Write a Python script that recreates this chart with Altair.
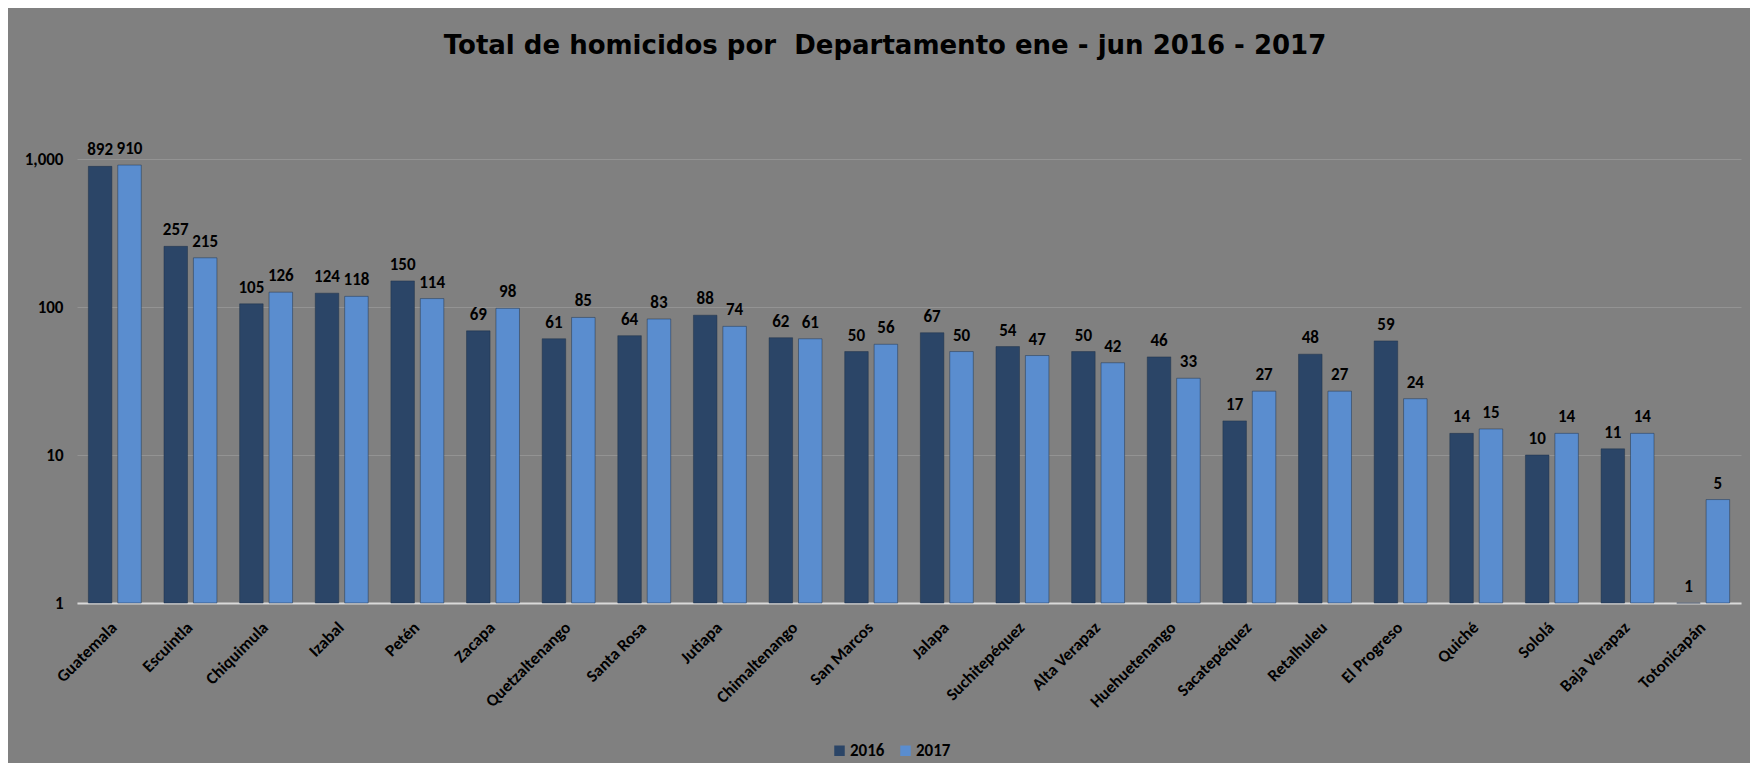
import altair as alt
import pandas as pd

departamentos = ["Guatemala", "Escuintla", "Chiquimula", "Izabal", "Petén", "Zacapa",
                 "Quetzaltenango", "Santa Rosa", "Jutiapa", "Chimaltenango", "San Marcos",
                 "Jalapa", "Suchitepéquez", "Alta Verapaz", "Huehuetenango", "Sacatepéquez",
                 "Retalhuleu", "El Progreso", "Quiché", "Sololá", "Baja Verapaz", "Totonicapán"]
v2016 = [892, 257, 105, 124, 150, 69, 61, 64, 88, 62, 50, 67, 54, 50, 46, 17, 48, 59, 14, 10, 11, 1]
v2017 = [910, 215, 126, 118, 114, 98, 85, 83, 74, 61, 56, 50, 47, 42, 33, 27, 27, 24, 15, 14, 14, 5]
years = ["2016", "2017"]
colors = ["#2b4567", "#5a8dcf"]
y_ticks = [1, 10, 100, 1000]

rows = []
for d, a, b in zip(departamentos, v2016, v2017):
    rows.append({"Departamento": d, "Año": "2016", "Homicidios": a})
    rows.append({"Departamento": d, "Año": "2017", "Homicidios": b})
df = pd.DataFrame(rows)

FONT = "Carlito, Lato, sans-serif"
TITLE_FONT = "DejaVu Sans, sans-serif"

yenc = alt.Y("Homicidios:Q", title=None,
             scale=alt.Scale(type="log", domain=[1, 1000]),
             axis=alt.Axis(values=y_ticks, format=",", labelFontSize=17, labelFontWeight="bold",
                           labelColor="black", labelFont=FONT, labelPadding=14, ticks=False,
                           domain=False, grid=True, gridColor="#939393", gridWidth=1))

base = alt.Chart(df).encode(
    x=alt.X("Departamento:N", sort=departamentos, title=None,
            scale=alt.Scale(paddingInner=0.3, paddingOuter=0.15),
            axis=alt.Axis(labelAngle=-45, labelFontSize=17, labelFontWeight="bold",
                          labelColor="black", labelFont=FONT, ticks=False,
                          domainColor="#d9d9d9", domainWidth=2, labelPadding=16,
                          labelOffset=-6, grid=False)),
    xOffset=alt.XOffset("Año:N", sort=years, scale=alt.Scale(paddingInner=0.2)),
)

bars = base.mark_bar(stroke="#1e3048", strokeWidth=0.8, strokeOpacity=0.6).encode(
    y=yenc,
    y2=alt.datum(1),
    color=alt.Color("Año:N", sort=years,
                    scale=alt.Scale(domain=years, range=colors),
                    legend=alt.Legend(title=None, orient="none", legendX=754, legendY=583,
                                      direction="horizontal", symbolType="square",
                                      symbolSize=110, symbolStrokeWidth=0,
                                      labelFontSize=17, labelFontWeight="bold",
                                      labelColor="black", labelFont=FONT,
                                      columnPadding=12, labelOffset=2)),
)

labels = base.mark_text(dy=-7, baseline="bottom", fontSize=17, fontWeight="bold",
                        color="black", font=FONT).encode(
    y=yenc,
    text=alt.Text("Homicidios:Q", format="d"),
)

chart = alt.layer(bars, labels).properties(
    width=1664,
    height=444,
    title=alt.TitleParams("Total de homicidos por\u00a0 Departamento ene - jun 2016 - 2017",
                          fontSize=26, font=TITLE_FONT, fontWeight="bold", color="black",
                          anchor="middle", frame="group", baseline="alphabetic",
                          offset=60, dx=-24),
    autosize=alt.AutoSizeParams(type="none"),
    padding={"left": 69, "top": 151, "right": 9, "bottom": 160},
).configure(
    background="#808080",
).configure_view(stroke=None)

chart.save("out.html", embed_options={"renderer": "svg", "actions": False})
